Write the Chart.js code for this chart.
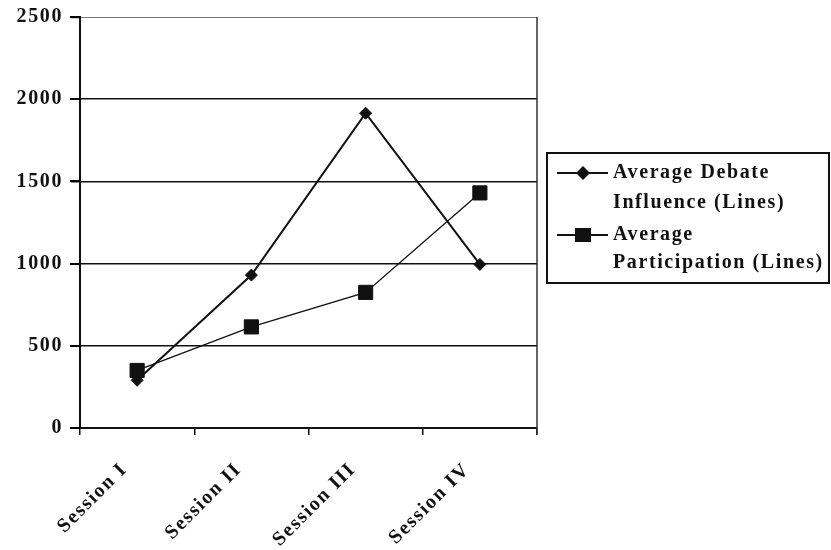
<!DOCTYPE html>
<html>
<head>
<meta charset="utf-8">
<script src="https://cdn.jsdelivr.net/npm/chart.js@4/dist/chart.umd.min.js"></script>
<style>
  html, body { margin: 0; padding: 0; background: #fff; }
  #c { display: block; }
</style>
</head>
<body>
<canvas id="c" width="831" height="550"></canvas>
<script>
// ---- data ----
const categories = ['Session I', 'Session II', 'Session III', 'Session IV'];
const debateInfluence = [290, 930, 1915, 995];
const participation = [350, 615, 825, 1430];
const yTickValues = [0, 500, 1000, 1500, 2000, 2500];
const seriesNames = ['Average Debate Influence (Lines)', 'Average Participation (Lines)'];
const legendLines = [['Average Debate', 'Influence (Lines)'], ['Average', 'Participation (Lines)']];

const FONT_FAMILY = "'Liberation Serif', 'Times New Roman', serif";
const LETTER_SPACING = '1.6px';
const INK = '#111';

const spacingPlugin = {
  id: 'spacing',
  beforeUpdate(chart) { chart.ctx.letterSpacing = LETTER_SPACING; },
  beforeLayout(chart) { chart.ctx.letterSpacing = LETTER_SPACING; },
  beforeDraw(chart) { chart.ctx.letterSpacing = LETTER_SPACING; }
};

const framePlugin = {
  id: 'frame',
  afterDraw(chart) {
    const { ctx, chartArea } = chart;
    const yScale = chart.scales.y;
    ctx.save();
    ctx.strokeStyle = '#333';
    ctx.lineWidth = 1.5;
    ctx.beginPath();
    ctx.moveTo(chartArea.right, chartArea.top);
    ctx.lineTo(chartArea.right, chartArea.bottom + 7);
    ctx.stroke();
    // y-axis tick marks, outside left of the axis
    ctx.strokeStyle = '#000';
    ctx.lineWidth = 2;
    yScale.ticks.forEach(t => {
      const py = Math.round(yScale.getPixelForValue(t.value));
      ctx.beginPath();
      ctx.moveTo(chartArea.left - 10, py);
      ctx.lineTo(chartArea.left + 1, py);
      ctx.stroke();
    });
    ctx.restore();
  }
};

const legendPlugin = {
  id: 'boxLegend',
  afterDraw(chart) {
    const ctx = chart.ctx;
    ctx.save();
    ctx.letterSpacing = LETTER_SPACING;
    const box = { x: 547, y: 153, w: 282, h: 130 };
    ctx.strokeStyle = INK;
    ctx.lineWidth = 2;
    ctx.strokeRect(box.x, box.y, box.w, box.h);
    const rows = [[173, 203], [235, 263]];
    chart.data.datasets.forEach((ds, i) => {
      const y0 = rows[i][0];
      ctx.strokeStyle = INK;
      ctx.lineWidth = 2;
      ctx.beginPath();
      ctx.moveTo(557, y0);
      ctx.lineTo(608, y0);
      ctx.stroke();
      ctx.fillStyle = INK;
      if (ds.pointStyle === 'rectRot') {
        ctx.beginPath();
        ctx.moveTo(583, y0 - 7);
        ctx.lineTo(590, y0);
        ctx.lineTo(583, y0 + 7);
        ctx.lineTo(576, y0);
        ctx.closePath();
        ctx.fill();
      } else {
        ctx.fillRect(575, y0 - 7, 16, 14);
      }
      ctx.font = "bold 20px " + FONT_FAMILY;
      ctx.textBaseline = 'middle';
      ctx.textAlign = 'left';
      legendLines[i].forEach((t, k) => ctx.fillText(t, 613, rows[i][k]));
    });
    ctx.restore();
  }
};

new Chart(document.getElementById('c'), {
  type: 'line',
  data: {
    labels: categories,
    datasets: [
      {
        label: seriesNames[0],
        data: debateInfluence,
        borderColor: INK,
        backgroundColor: INK,
        borderWidth: 2,
        pointStyle: 'rectRot',
        pointRadius: 6,
        pointBorderWidth: 1,
        tension: 0
      },
      {
        label: seriesNames[1],
        data: participation,
        borderColor: INK,
        backgroundColor: INK,
        borderWidth: 1.3,
        pointStyle: 'rect',
        pointRadius: 10,
        pointBorderWidth: 1,
        tension: 0
      }
    ]
  },
  options: {
    responsive: false,
    animation: false,
    devicePixelRatio: 1,
    layout: { padding: { top: 17, right: 294, left: 0, bottom: 0 } },
    plugins: { legend: { display: false }, tooltip: { enabled: false } },
    scales: {
      x: {
        offset: true,
        grid: { display: true, drawOnChartArea: false, offset: true, tickLength: 7, color: INK, lineWidth: 1.5, tickColor: INK, tickWidth: 1.5 },
        border: { display: true, color: INK, width: 2 },
        ticks: {
          color: INK,
          font: { family: FONT_FAMILY, size: 20, weight: 'bold' },
          minRotation: 45, maxRotation: 45, padding: 23, labelOffset: -13
        },
        afterFit(scale) { scale.height = 122; scale.paddingLeft = 0; scale.paddingRight = 0; }
      },
      y: {
        min: 0, max: 2500,
        afterBuildTicks(scale) { scale.ticks = yTickValues.map(v => ({ value: v })); },
        grid: {
          color: ctx => (ctx.tick && ctx.tick.value === 2500 ? '#777' : INK),
          lineWidth: ctx => (ctx.tick && ctx.tick.value === 2500 ? 1 : 1.5),
          drawTicks: true,
          tickColor: INK,
          tickWidth: 1.5,
          tickLength: 9
        },
        border: { display: true, color: INK, width: 2 },
        ticks: {
          color: INK,
          font: { family: FONT_FAMILY, size: 20, weight: 'bold' },
          padding: 8,
          callback: v => String(v)
        },
        afterFit(scale) { scale.width = 80; scale.paddingTop = 0; scale.paddingBottom = 0; }
      }
    }
  },
  plugins: [spacingPlugin, framePlugin, legendPlugin]
});
</script>
</body>
</html>
